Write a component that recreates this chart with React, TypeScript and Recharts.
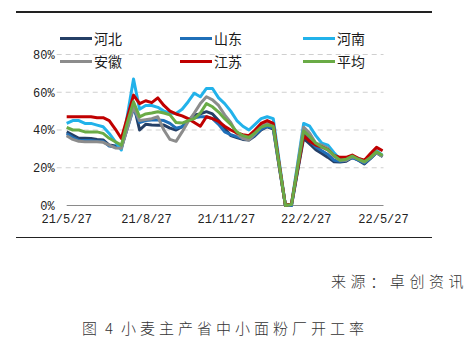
import React from "react";
import { LineChart, Line, XAxis, YAxis, ReferenceLine } from "recharts";

// days since 21/5/27 (weekly)
const days = [0, 7, 14, 21, 28, 35, 42, 49, 56, 63, 70, 77, 84, 91, 98, 105, 112, 119, 126, 133, 140, 147, 154, 161, 168, 175, 182, 189, 196, 203, 210, 217, 224, 231, 238, 245, 252, 259, 266, 273, 280, 287, 294, 301, 308, 315, 322, 329, 336, 343, 350, 357, 364];

const hebei = [39, 37.3, 35.6, 35.6, 35.5, 35, 34.7, 32, 31.5, 30.5, 42, 54, 40, 43, 42.6, 42.5, 42.6, 41, 40, 41.7, 45, 48, 48.5, 49.7, 48.5, 45, 41, 37, 36, 35, 34.7, 37, 40, 41.7, 40.5, 20, 0, 0, 18, 35.6, 32.6, 29.6, 27.6, 25.5, 23.2, 23, 23.5, 25.5, 24, 22, 25, 28, 26];
const shandong = [38, 36, 34.5, 34.5, 34.5, 34, 34, 31.5, 31, 30.8, 41, 51.5, 44, 45, 45.3, 45.3, 45, 43.5, 41, 41.7, 45, 46.5, 47, 47, 46, 43, 39, 37.5, 36.5, 35.5, 35, 37.5, 40.5, 42, 41, 20.5, 0, 0, 19, 38, 34.5, 31, 29, 27, 24, 23.5, 24, 25.5, 24, 22.5, 25, 28, 26];
const henan = [43.5, 45, 45, 43.5, 43.5, 42.6, 41.7, 38.2, 33.8, 29.4, 48, 67, 51, 53, 53, 52, 50, 49, 48.8, 51, 55, 59.5, 57.6, 62, 62, 57, 54, 50, 45, 42, 40, 43, 46, 47, 46, 23, 0, 1, 22, 43.5, 42, 37, 33, 32, 28, 24.5, 25, 26, 25, 23.5, 26, 29, 26.5];
const anhui = [37, 35, 34, 33.8, 33.8, 33.8, 33.5, 32, 30.5, 30.3, 41, 52, 45, 45.5, 46, 47, 40, 35, 34, 39, 44.5, 49, 54, 57.6, 56, 53, 48, 44, 38, 35.5, 34.7, 38, 42, 44, 42, 21, 0, 0.5, 21, 41.5, 38.2, 33, 32, 30.3, 26, 24, 24, 26, 24.5, 23, 25.5, 28, 26];
const jiangsu = [47, 47, 47, 47, 47, 46.5, 46.5, 45, 40.5, 35.5, 47, 58.5, 54, 55.5, 54.5, 57, 53, 50, 48.5, 47.5, 46, 44, 42, 47, 46, 44.5, 42, 40, 38.5, 37.5, 37, 40, 43.5, 45, 43.5, 21.5, 0, 1, 19, 37, 34, 32, 31, 29.5, 26.5, 25.5, 25.5, 26.7, 25, 24, 27.5, 30.8, 29];
const pingjun = [41.4, 40, 40, 39, 39, 39, 38.2, 35.6, 33.8, 32, 44, 55, 47, 48.5, 49, 49.7, 49, 48, 44, 43.7, 45, 46, 49, 54, 52.3, 49.5, 46, 43, 39, 37, 36, 38.5, 41.5, 42.6, 42, 21, 0, 0.5, 20, 39.5, 36.5, 33, 31, 29.5, 26.5, 24, 24.5, 26.2, 24.5, 23.2, 25.5, 28.5, 26.5];

const xTickDays = [0, 92, 184, 276, 365];
const xTickLabels = ["21/5/27", "21/8/27", "21/11/27", "22/2/27", "22/5/27"];
const yTicks = [0, 20, 40, 60, 80];

const seriesNames = ["河北", "山东", "河南", "安徽", "江苏", "平均"];
const seriesValues = [hebei, shandong, henan, anhui, jiangsu, pingjun];
const seriesColors = ["#243f66", "#1f6fb8", "#22b2ea", "#8c8c8c", "#c00000", "#6aab46"];

const data = days.map((d, i) => {
  const row: Record<string, number> = { day: d };
  seriesNames.forEach((n, k) => {
    row[n] = seriesValues[k][i];
  });
  return row;
});

const legendPos = [
  { left: 60, top: 38 },
  { left: 180, top: 38 },
  { left: 303, top: 38 },
  { left: 60, top: 61 },
  { left: 180, top: 61 },
  { left: 303, top: 61 },
];

const tickFont = { fontFamily: "Liberation Mono, monospace", fontSize: 12, fill: "#222" };

export default function App() {
  return (
    <div style={{ position: "absolute", left: 0, top: 0, width: 473, height: 342, background: "#fff", overflow: "hidden" }}>
      <div style={{ position: "absolute", left: 16, top: 11, width: 416, height: 1.5, background: "#222" }} />
      <div style={{ position: "absolute", left: 16, top: 236.5, width: 416, height: 1.5, background: "#222" }} />
      <div style={{ position: "absolute", left: 0, top: 0 }}>
        <LineChart
          width={473}
          height={342}
          data={data}
          margin={{ top: 54.5, right: 89.5, bottom: 106.5, left: 0 }}
        >
          <XAxis
            dataKey="day"
            type="number"
            domain={[-11.5, 365]}
            allowDataOverflow
            ticks={xTickDays}
            interval={0}
            tickFormatter={(v: number) => xTickLabels[xTickDays.indexOf(v)] ?? ""}
            axisLine={false}
            tickLine={false}
            tickSize={0}
            tickMargin={9}
            height={30}
            tick={tickFont}
          />
          <YAxis
            type="number"
            domain={[0, 80]}
            ticks={yTicks}
            interval={0}
            tickFormatter={(v: number) => `${v}%`}
            axisLine={false}
            tickLine={false}
            tickSize={0}
            tickMargin={2}
            width={56.7}
            tick={tickFont}
          />
          {[20, 40, 60, 80].map((v) => (
            <ReferenceLine key={v} y={v} stroke="#cfcfcf" strokeDasharray="5 4" strokeWidth={1} />
          ))}
          <ReferenceLine
            segment={[
              { x: 0, y: 0 },
              { x: 365, y: 0 },
            ]}
            stroke="#8a8a8a"
            strokeWidth={1}
          />
          {seriesNames.map((n, k) => (
            <Line
              key={n}
              dataKey={n}
              type="linear"
              stroke={seriesColors[k]}
              strokeWidth={3}
              dot={false}
              activeDot={false}
              strokeLinejoin="round"
              isAnimationActive={false}
            />
          ))}
        </LineChart>
      </div>
      {seriesNames.map((n, k) => (
        <div
          key={n}
          style={{
            position: "absolute",
            left: legendPos[k].left,
            top: legendPos[k].top - 10,
            height: 20,
            display: "flex",
            alignItems: "center",
            fontFamily: "'Noto Sans CJK SC', sans-serif",
            fontSize: 14,
            color: "#1a1a1a",
            whiteSpace: "nowrap",
          }}
        >
          <span style={{ display: "inline-block", width: 32, height: 3, background: seriesColors[k], marginRight: 2 }} />
          <span>{n}</span>
        </div>
      ))}
      <div
        style={{
          position: "absolute",
          left: 331,
          top: 271,
          fontFamily: "'Noto Sans CJK SC', sans-serif",
          fontSize: 15,
          fontWeight: 300,
          letterSpacing: 4.6,
          color: "#333",
          whiteSpace: "nowrap",
          lineHeight: "20px",
        }}
      >
        来源：卓创资讯
      </div>
      <div
        style={{
          position: "absolute",
          left: 82,
          top: 318,
          fontFamily: "'Noto Sans CJK SC', sans-serif",
          fontSize: 15,
          fontWeight: 300,
          letterSpacing: 4,
          color: "#333",
          whiteSpace: "nowrap",
          lineHeight: "20px",
        }}
      >
        <span>图</span>
        <span style={{ marginLeft: 4 }}>4</span>
        <span style={{ marginLeft: 4 }}>小麦主产省中小面粉厂开工率</span>
      </div>
    </div>
  );
}
